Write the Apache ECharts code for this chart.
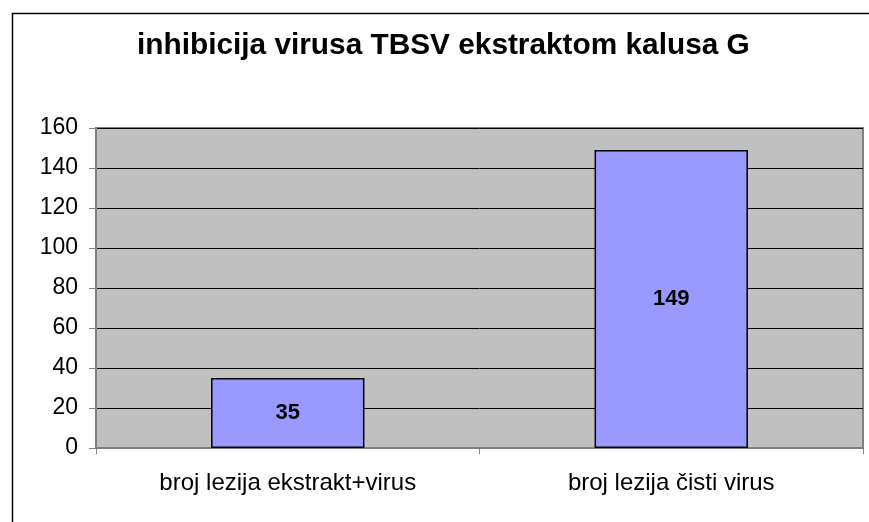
<!DOCTYPE html>
<html><head><meta charset="utf-8">
<script src="https://cdn.jsdelivr.net/npm/echarts@6/dist/echarts.min.js"></script>
<style>html,body{margin:0;padding:0;background:#fff}#c{width:869px;height:522px}</style>
</head><body><div id="c"></div>
<script>
const titleText = 'inhibicija virusa TBSV ekstraktom kalusa G';
const categories = ['broj lezija ekstrakt+virus', 'broj lezija čisti virus'];
const values = [35, 149];
const yMin = 0, yMax = 160, yStep = 20;

const chart = echarts.init(document.getElementById('c'), null, {renderer: 'canvas'});
chart.setOption({
  animation: false,
  backgroundColor: '#fff',
  title: {
    text: titleText, left: 132, top: 26,
    textStyle: {fontFamily: 'Liberation Sans, Arial', fontWeight: 'bold', fontSize: 29.8, color: '#000'}
  },
  graphic: [{
    type: 'rect', left: 10, top: 11, z: 100, silent: true,
    shape: {width: 880, height: 560},
    style: {fill: 'none', stroke: '#000', lineWidth: 1.5}
  }],
  grid: {left: 96, right: 6, top: 128, bottom: 74, show: true, backgroundColor: '#C0C0C0', borderColor: '#808080', borderWidth: 2},
  xAxis: {
    type: 'category', data: categories,
    axisLine: {lineStyle: {color: '#808080', width: 2}},
    axisTick: {show: true, alignWithLabel: false, length: 6, lineStyle: {color: '#808080'}},
    axisLabel: {fontFamily: 'Liberation Sans, Arial', fontSize: 24, color: '#000', margin: 23}
  },
  yAxis: {
    type: 'value', min: yMin, max: yMax, interval: yStep,
    axisLine: {show: true, lineStyle: {color: '#808080', width: 2}},
    axisTick: {show: true, length: 7, lineStyle: {color: '#808080'}},
    axisLabel: {fontFamily: 'Liberation Sans, Arial', fontSize: 23, color: '#000', margin: 18},
    splitLine: {lineStyle: {color: '#000', width: 1}}
  },
  series: [{
    type: 'bar', data: values, barCategoryGap: '60%',
    itemStyle: {color: '#9999FF', borderColor: '#000', borderWidth: 1.5},
    label: {show: true, position: 'inside', fontFamily: 'Liberation Sans, Arial', fontWeight: 'bold', fontSize: 22, color: '#000'}
  }]
});
</script></body></html>
